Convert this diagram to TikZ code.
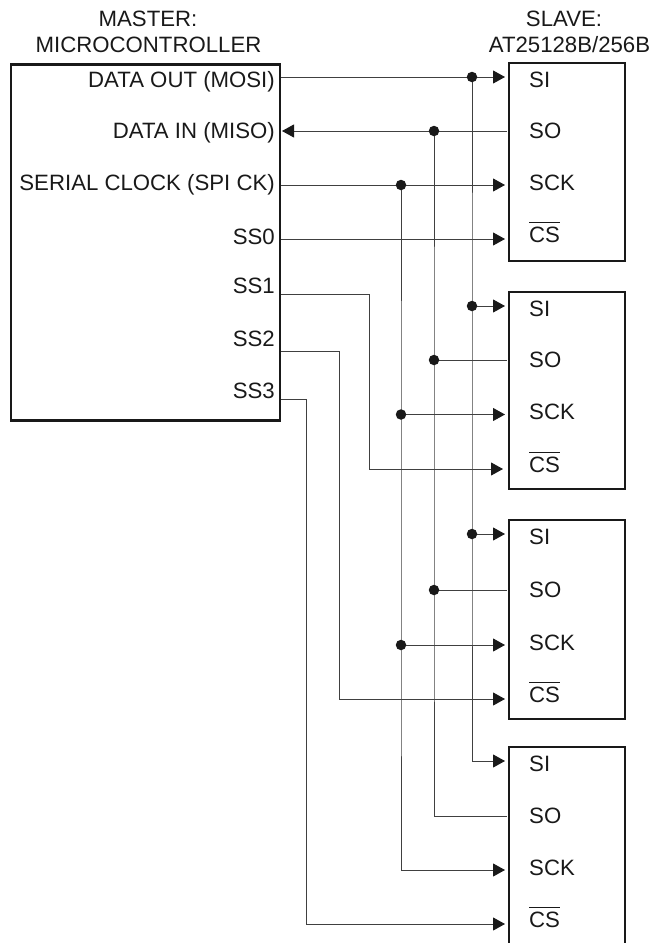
\documentclass[tikz,border=0pt]{standalone}
\usepackage{fontspec}
\setmainfont{Liberation Sans}
\usetikzlibrary{arrows.meta}
\newcommand{\barCS}{\vbox{\hrule height 0.8pt \kern4.2pt \hbox{CS}}}
\tikzset{
  x=1pt,y=-1pt,
  box/.style={draw=black!90,line width=2.8pt,fill=none,inner sep=0pt},
  wire/.style={draw=black!75,line width=0.95pt},
  toarrow/.style={wire,-{Triangle[length=12pt,width=13pt,color=black!90]}},
  dot/.style={circle,fill=black!90,inner sep=0pt,minimum size=10.5pt},
  lbl/.style={font=\fontsize{22.2}{26}\selectfont,text=black!90,inner sep=0pt},
  pinr/.style={lbl,anchor=base east},
  pinl/.style={lbl,anchor=base west},
  title/.style={lbl,anchor=base},
}
\begin{document}
\begin{tikzpicture}
\useasboundingbox (0,0) rectangle (652,943);
\begin{scope}
\clip (0,0) rectangle (652,943);
% master
\node[box,minimum width=269pt,minimum height=356pt] (master) at (145.5,242.5) {};
\node[title] (mtitle1) at (148,26) {MASTER:};
\node[title] (mtitle2) at (148.5,52) {MICROCONTROLLER};
\node[title] (stitle1) at (564,26) {SLAVE:};
\node[title] (stitle2) at (569.5,52) {AT25128B/256B};
\node[pinr] (mosi) at (275,87) {DATA OUT (MOSI)};
\node[pinr] (miso) at (275,138) {DATA IN (MISO)};
\node[pinr] (sck) at (275,190.5) {SERIAL CLOCK (SPI CK)};
\node[pinr] (ss0) at (275,244) {SS0};
\node[pinr] (ss1) at (275,293) {SS1};
\node[pinr] (ss2) at (275,346) {SS2};
\node[pinr] (ss3) at (275,398) {SS3};
% master pin points
\coordinate (pmosi) at (281,77);
\coordinate (pmiso) at (282,131);
\coordinate (psck) at (281,185);
\coordinate (pss0) at (281,239);
\coordinate (pss1) at (281,294);
\coordinate (pss2) at (281,351);
\coordinate (pss3) at (281,399);
% slaves
\foreach \n/\tp/\bt/\ysi/\yso/\ysc/\ycs in {
  1/63/261/77/131/185/239,
  2/292/489/306/360/414.5/469,
  3/520/719/534/590/645/699,
  4/747/965/761/816/870/924}{
  \pgfmathsetmacro{\cy}{(\tp+\bt)/2}
  \pgfmathsetmacro{\hh}{\bt-\tp}
  \node[box,minimum width=116pt,minimum height=\hh pt] (slave\n) at (567,\cy) {};
  \node[pinl] (si\n) at (529,\ysi+10) {SI};
  \node[pinl] (so\n) at (529,\yso+7) {SO};
  \node[pinl] (sc\n) at (529,\ysc+5) {SCK};
  \node[pinl] (cs\n) at (529,\ycs+3) {\barCS};
  \coordinate (insi\n) at (505,\ysi);
  \coordinate (inso\n) at (507,\yso);
  \coordinate (insc\n) at (505,\ysc);
  \coordinate (incs\n) at (505,\ycs);
  \coordinate (jsi\n) at (472,\ysi);
  \coordinate (jso\n) at (434,\yso);
  \coordinate (jsc\n) at (401,\ysc);
}
\coordinate (incs2) at (503,469);
% buses
\draw[wire] (pmosi) -- (jsi1);
\draw[toarrow] (jsi1) -- (insi1);
\draw[toarrow] (inso1) -- (pmiso);
\draw[wire] (psck) -- (jsc1);
\draw[toarrow] (jsc1) -- (insc1);
\draw[toarrow] (pss0) -- (incs1);
% verticals
\draw[wire] (jsi1) -- (jsi2) -- (jsi3) -- (jsi4);
\draw[wire] (jso1) -- (jso2) -- (jso3) -- (jso4);
\draw[wire] (jsc1) -- (jsc2) -- (jsc3) -- (jsc4);
% branches
\foreach \n in {2,3,4}{
  \draw[toarrow] (jsi\n) -- (insi\n);
  \draw[wire] (jso\n) -- (inso\n);
  \draw[toarrow] (jsc\n) -- (insc\n);
}
% selects
\coordinate (b1) at (369,294);
\coordinate (b2) at (339,351);
\coordinate (b3) at (306.5,399);
\draw[toarrow] (pss1) -- (b1) |- (incs2);
\draw[toarrow] (pss2) -- (b2) |- (incs3);
\draw[toarrow] (pss3) -- (b3) |- (incs4);
% junctions
\foreach \n in {1,2,3}{
  \node[dot] (dsi\n) at (jsi\n) {};
  \node[dot] (dso\n) at (jso\n) {};
  \node[dot] (dsc\n) at (jsc\n) {};
}
\end{scope}
\end{tikzpicture}
\end{document}
